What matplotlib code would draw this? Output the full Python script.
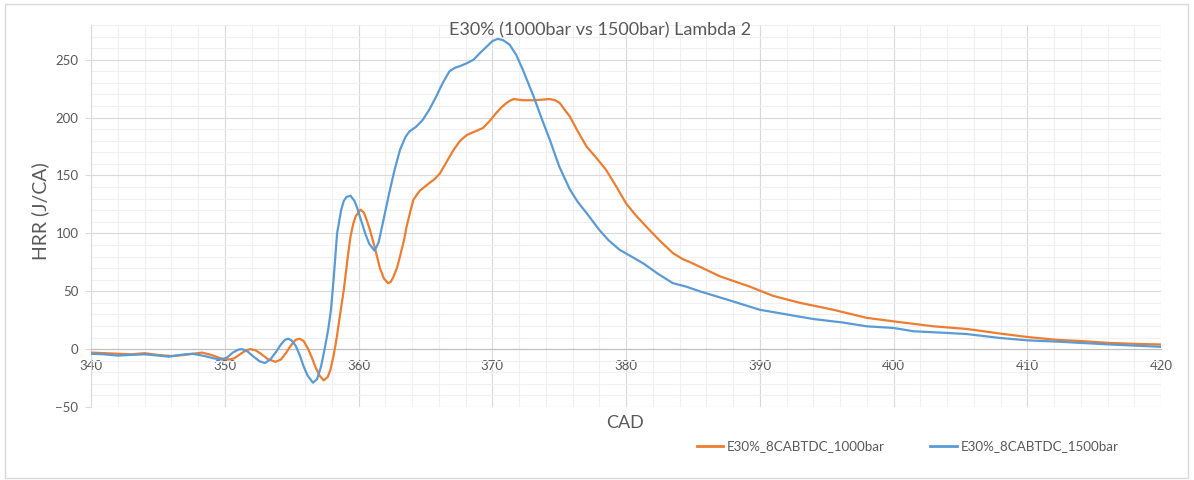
import matplotlib
matplotlib.use("Agg")
import matplotlib.pyplot as plt
from matplotlib.ticker import MultipleLocator
from matplotlib.lines import Line2D
from matplotlib.patches import Rectangle

plt.rcParams['font.family'] = ['Lato', 'DejaVu Sans']

title = "E30% (1000bar vs 1500bar) Lambda 2"
xlabel = "CAD"
ylabel = "HRR (J/CA)"
name_1000 = "E30%_8CABTDC_1000bar"
name_1500 = "E30%_8CABTDC_1500bar"

cad_1000 = [340, 341, 342, 343, 344, 345, 346, 347, 348.3, 349, 349.7, 350.3, 350.7,
            351.2, 351.6, 351.9, 352.3, 352.7, 353.2, 353.8, 354.2, 354.6, 355.0,
            355.3, 355.6, 355.9, 356.2, 356.5, 356.8, 357.1, 357.4, 357.7, 357.9,
            358.15, 358.4, 358.65, 358.9, 359.2, 359.4, 359.6, 359.8, 360.15, 360.4,
            360.6, 360.8, 361.0, 361.3, 361.6, 361.9, 362.2, 362.4, 362.6, 362.9,
            363.1, 363.4, 363.6, 363.9, 364.1, 364.4, 364.6, 365.3, 365.7, 366.1,
            366.6, 367.1, 367.6, 368.1, 368.7, 369.3, 369.8, 370.3, 370.7, 371.0,
            371.3, 371.6, 372.3, 373.1, 373.7, 374.3, 374.7, 375.05, 375.4, 375.8,
            376.4, 377.05, 377.8, 378.5, 379.3, 380, 380.7, 381.5, 382.5, 383.5,
            384.2, 385, 387, 389.25, 391, 393, 395.5, 398, 400, 403, 405.5,
            408, 410, 412.2, 414, 416.2, 418.2, 420]
hrr_1000 = [-3, -3.5, -4, -4.5, -3.5, -5, -6, -5, -3, -5, -8, -9, -8,
            -4, -1, 0, -1, -4, -8.5, -11, -9, -3, 4,
            8, 9, 7, 1, -7, -16, -23, -27, -24, -18,
            -5, 12, 32, 51, 80, 97, 108, 115, 120.5, 118,
            112, 105, 97, 84, 70, 61, 57, 58, 62, 71,
            80, 94, 106, 120, 129, 134, 137, 143.5, 147, 152,
            162, 172, 180, 185, 188, 191, 197, 204, 209, 212,
            214.5, 216, 215, 215, 215.5, 216, 215, 212.6, 207, 201,
            188, 175, 165, 155, 140, 126, 116, 106, 94, 83,
            78, 74, 63, 54, 46, 40, 34, 27, 24, 19.7, 17.4,
            13.4, 10.5, 8, 7, 5.3, 4.5, 4]

cad_1500 = [340, 341, 342, 343, 344, 345, 345.8, 347, 347.6, 348.5, 349.2, 349.8,
            350.2, 350.6, 351.0, 351.3, 351.7, 352.1, 352.6, 353.0, 353.4, 353.8,
            354.2, 354.5, 354.75, 355.0, 355.3, 355.6, 355.9, 356.2, 356.6, 356.9,
            357.2, 357.5, 357.75, 357.95, 358.15, 358.4, 358.7, 358.9, 359.1, 359.4,
            359.7, 359.9, 360.2, 360.5, 360.8, 361.2, 361.5, 361.8, 362.3, 362.7,
            363.1, 363.5, 363.8, 364.3, 364.8, 365.3, 365.8, 366.3, 366.8, 367.2,
            367.6, 368.1, 368.6, 369.1, 369.6, 370.0, 370.4, 370.8, 371.3, 371.8,
            372.3, 373.1, 373.7, 374.3, 375.0, 375.8, 376.4, 377.05, 378, 378.7,
            379.5, 380.4, 381.3, 382.4, 383.5, 384.5, 385.5, 387.5, 390, 391, 394,
            396.2, 398, 400, 401.5, 404, 405.5, 407.9, 410, 412.2, 416.2, 420]
hrr_1500 = [-4, -4.5, -5.6, -5, -4.5, -5.5, -6.5, -4.5, -4, -6, -8, -9,
            -7, -3, -0.5, 0, -2, -6, -10.5, -12, -9, -3,
            4, 8, 9, 7.5, 3, -5, -15, -23, -29, -26,
            -15, 2, 18, 35, 62, 100, 120, 128, 131.5, 132.5,
            128, 122, 111, 100, 91, 85, 92, 108, 135, 155,
            172, 183, 188, 192, 198, 207, 218, 230, 240, 243,
            244.5, 247, 250, 256, 261.5, 266, 268, 267, 263, 254,
            241, 218, 199, 181, 158, 138, 127, 117.6, 103, 94,
            86, 80, 74, 65, 57, 54, 50, 43, 34, 32, 26,
            23, 19.7, 18.3, 15.4, 14, 13, 9.7, 7.6, 6.5, 4, 2]

orange = "#ED7D31"
blue = "#5B9BD5"
text_col = "#595959"

fig = plt.figure(figsize=(11.94, 4.8), dpi=100)
ax = fig.add_axes([91/1194, 1-407/480, (1161-91)/1194, (407-25)/480])

ax.plot(cad_1000, hrr_1000, color=orange, lw=1.6, solid_joinstyle='round',
        solid_capstyle='round', zorder=3)
ax.plot(cad_1500, hrr_1500, color=blue, lw=1.6, solid_joinstyle='round',
        solid_capstyle='round', zorder=4)

ax.set_xlim(340, 420)
ax.set_ylim(-50, 280)
ax.xaxis.set_major_locator(MultipleLocator(10))
ax.xaxis.set_minor_locator(MultipleLocator(2))
ax.yaxis.set_major_locator(MultipleLocator(50))
ax.yaxis.set_minor_locator(MultipleLocator(10))
ax.set_yticks([-50, 0, 50, 100, 150, 200, 250])

ax.grid(which='major', color='#D9D9D9', lw=0.8, zorder=0)
ax.grid(which='minor', color='#F0F0F0', lw=0.8, zorder=0)
ax.set_axisbelow(True)

for s in ['top', 'right']:
    ax.spines[s].set_visible(False)
ax.spines['left'].set_color('#D9D9D9')
ax.spines['bottom'].set_color('#BFBFBF')
ax.spines['bottom'].set_position(('data', 0))

ax.tick_params(axis='x', which='both', length=0, labelsize=9.5, labelcolor=text_col, pad=8)
ax.tick_params(axis='y', which='major', length=4, color='#D9D9D9', labelsize=9.5,
               labelcolor=text_col, pad=5)
ax.tick_params(axis='y', which='minor', length=0)

fig.text(600/1194, 1-30/480, title, ha='center', va='center', fontsize=13, color=text_col)
fig.text(40/1194, 1-211/480, ylabel, ha='center', va='center', rotation=90, fontsize=14,
         color=text_col)
fig.text(625/1194, 1-423/480, xlabel, ha='center', va='center', fontsize=13, color=text_col)

# legend
fig.add_artist(Line2D([697/1194, 723/1194], [1-446/480, 1-446/480], color=orange, lw=2))
fig.text(727/1194, 1-446/480, name_1000, ha='left', va='center', fontsize=9.6, color=text_col)
fig.add_artist(Line2D([930/1194, 957/1194], [1-446/480, 1-446/480], color=blue, lw=2))
fig.text(961/1194, 1-446/480, name_1500, ha='left', va='center', fontsize=9.6, color=text_col)

fig.add_artist(Rectangle((5/1194, 2/480), 1183/1194, 474/480, transform=fig.transFigure,
                         fill=False, edgecolor='#D9D9D9', lw=1))

fig.savefig("out.png", dpi=100)
